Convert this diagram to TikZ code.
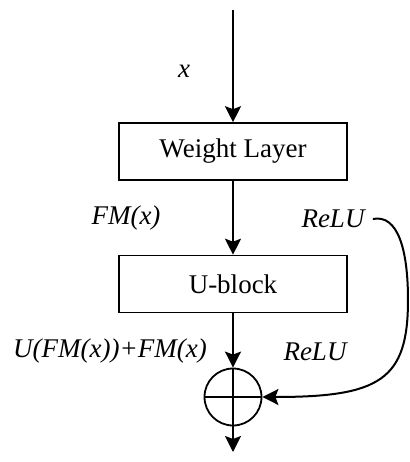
\documentclass[tikz,border=0pt]{standalone}
\usepackage{fontspec}
\setmainfont{Liberation Serif}
\usetikzlibrary{arrows.meta}

\begin{document}
\begin{tikzpicture}[
			x=0.5pt,y=-0.5pt,
			layer/.style={
				draw=black,
				line width=0.8pt,
				minimum width=114pt,
				minimum height=28.5pt,
				inner sep=0pt,
				font=\fontsize{13.5}{16}\selectfont
			},
			sumnode/.style={
				circle,
				draw=black,
				line width=0.9pt,
				minimum size=28.5pt,
				inner sep=0pt,
				path picture={
					\draw[line width=0.9pt]
					(path picture bounding box.north) -- (path picture bounding box.south)
					(path picture bounding box.west) -- (path picture bounding box.east);
				}
			},
			tag/.style={
				inner sep=2pt,
				font=\fontsize{13.5}{16}\selectfont\itshape
			},
			flow/.style={
				-{Stealth[length=8pt,width=8pt,inset=1.5pt]},
				line width=1pt,
				draw=black
			}
			]
			
			\useasboundingbox (0,0) rectangle (409,462);
			
			% Input and output ends
			\coordinate (in) at (233,10);
			\coordinate (out) at (233,452);
			
			% Blocks
			\node[layer] (weight) at (233,151.5) {Weight Layer};
			\node[layer] (ublock) at (233,284) {U-block};
			\node[sumnode] (plus) at (233,397) {};
			
			% Labels
			\node[tag] (xlab) at (184,71) {x};
			\node[tag] (fmlab) at (126,218) {FM(x)};
			\node[tag] (relutop) at (333,219) {ReLU};
			\node[tag] (sumlab) at (110,351) {U(FM(x))+FM(x)};
			\node[tag] (relubot) at (315,352) {ReLU};
			
			% Main path
			\draw[flow] (in) -- (weight.north);
			
			\draw[flow] (weight.south) -- (ublock.north);
			
			\draw[flow] (ublock.south) -- (plus.north);
			
			\draw[flow] (plus.south) -- (out);
			
			% Skip connection
			\draw[flow]
			([xshift=2pt]relutop.east) .. controls (398,214) and (408,250) .. (408,300)
			.. controls (408,380) and (380,397) .. (plus.east);
			
		\end{tikzpicture}
\end{document}
